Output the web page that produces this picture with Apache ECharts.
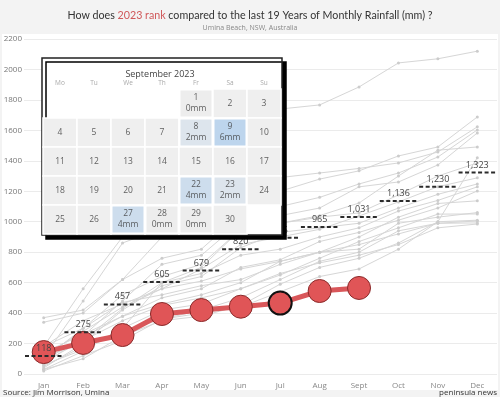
<!DOCTYPE html>
<html>
<head>
<meta charset="utf-8">
<script src="https://cdn.jsdelivr.net/npm/echarts@6/dist/echarts.min.js"></script>
<style>
html,body{margin:0;padding:0;background:#f3f3f3;}
#chart{width:500px;height:397px;}
</style>
</head>
<body>
<div id="chart"></div>
<script>
// ---- Data ----
const months = ['Jan','Feb','Mar','Apr','May','Jun','Jul','Aug','Sept','Oct','Nov','Dec'];
const yTicks = [0,200,400,600,800,1000,1200,1400,1600,1800,2000,2200];

// cumulative monthly rainfall (mm), previous 19 years (approximate)
const yrA = [180,560,900,1200,1480,1650,1740,1767,1885,2043,2070,2120];
const yrB = [370,420,620,900,960,1150,1200,1280,1334,1432,1491,1688];
const yrC = [110,480,860,960,1020,1250,1290,1320,1350,1386,1458,1623];
const yrD = [340,400,620,760,820,1050,1100,1160,1248,1320,1425,1603];
const yrE = [60,250,480,720,780,1000,1040,1090,1229,1261,1373,1583];
const yrF = [100,300,520,640,720,950,990,1040,1123,1300,1470,1491];
const yrG = [80,220,430,600,700,950,990,1030,1058,1176,1300,1386];
const yrH = [120,280,440,560,690,850,900,950,1038,1130,1230,1288];
const yrI = [40,200,420,580,640,830,930,960,990,1090,1180,1248];
const yrJ = [30,150,300,600,660,780,820,900,960,1070,1140,1229];
const yrK = [90,240,380,500,560,700,750,870,930,1010,1090,1202];
const yrL = [180,300,470,520,580,620,720,800,900,1030,1120,1137];
const yrM = [60,160,300,420,460,560,650,760,870,960,1050,1051];
const yrN = [140,260,380,460,520,600,740,800,820,990,1030,1060];
const yrO = [50,180,280,360,420,500,620,740,800,940,990,1005];
const yrP = [180,350,460,560,610,690,740,800,850,920,990,992];
const yrQ = [30,100,250,350,380,450,590,700,760,860,1000,1010];
const yrR = [100,220,350,450,500,560,660,730,780,850,960,985];
const yrS = [20,120,220,360,400,440,540,640,690,820,1000,1420];
const pastYears = [yrA,yrB,yrC,yrD,yrE,yrF,yrG,yrH,yrI,yrJ,yrK,yrL,yrM,yrN,yrO,yrP,yrQ,yrR,yrS];

// 2023 cumulative rainfall (mm)
const y2023 = [144,204,256,394,420,442,466,545,565];
// average reference (dashed) per month
const avgValues = [118,275,457,605,679,820,895,965,1031,1136,1230,1323];

// September 2023 daily rainfall (calendar)
const rainDays = [1,8,9,22,23,27,28,29];
const rainMm = [0,2,6,4,2,4,0,0];
const calendarMonth = '2023-09';

// ---- Build ----
const pad = d => (d < 10 ? '0' + d : '' + d);
const allDays = [];
for (let d = 1; d <= 30; d++) allDays.push([calendarMonth + '-' + pad(d), d]);
const heatData = rainDays.map((d, i) => [calendarMonth + '-' + pad(d), rainMm[i]]);
const mmOf = {};
rainDays.forEach((d, i) => { mmOf[d] = rainMm[i]; });

const chart = echarts.init(document.getElementById('chart'), null, {renderer: 'canvas'});

const series = [];
pastYears.forEach((arr, i) => {
  series.push({
    type: 'line', data: arr, z: 2,
    symbol: 'circle', symbolSize: 3, showSymbol: true,
    lineStyle: {color: '#d6d6d6', width: 1},
    itemStyle: {color: '#cccccc'},
    emphasis: {disabled: true}, silent: true, animation: false
  });
});
series.push({
  type: 'line', data: y2023.map((v, i) => i === 6 ? {value: v, itemStyle: {borderColor: '#111', borderWidth: 2}} : v),
  z: 5, symbol: 'circle', symbolSize: 23,
  lineStyle: {color: '#d9575a', width: 5},
  itemStyle: {color: '#e05557', borderColor: '#8a2a2a', borderWidth: 1},
  animation: false
});
series.push({
  type: 'custom', z: 8, animation: false,
  data: avgValues.map((v, i) => [i, v]),
  renderItem: function (params, api) {
    const idx = api.value(0), v = api.value(1);
    const p = api.coord([idx, v]);
    const w = api.size([1, 0])[0];
    return {
      type: 'group',
      children: [
        {type: 'line', shape: {x1: p[0] - w / 2 + 1, y1: p[1], x2: p[0] + w / 2 - 1, y2: p[1]},
         style: {stroke: '#2b2b2b', lineWidth: 2, lineDash: [4, 2.5]}},
        {type: 'text', x: p[0], y: p[1] - 3,
         style: {text: v.toLocaleString('en-US'), fill: '#444', font: '9px "Open Sans"', align: 'center', verticalAlign: 'bottom'}}
      ]
    };
  }
});
series.push({
  type: 'heatmap', coordinateSystem: 'calendar', data: heatData, z: 111,
  itemStyle: {borderColor: '#ffffff', borderWidth: 1.5}, animation: false
});
series.push({
  type: 'scatter', coordinateSystem: 'calendar', data: allDays, z: 112,
  symbolSize: 0, animation: false,
  label: {
    show: true, position: 'inside', color: '#3a3a3a', fontSize: 8.5, lineHeight: 11, fontFamily: 'Open Sans',
    formatter: function (p) {
      const d = p.value[1];
      return (d in mmOf) ? d + '\n' + mmOf[d] + 'mm' : '' + d;
    }
  }
});

const option = {
  backgroundColor: '#f3f3f3',
  animation: false,
  title: {
    text: '{a|How does }{r|2023 rank}{a| compared to the last 19 Years of Monthly Rainfall (mm) ?}',
    subtext: 'Umina Beach, NSW, Australia',
    left: 'center', top: 5, itemGap: 3,
    textStyle: {
      rich: {
        a: {fontSize: 10.7, color: '#333', fontFamily: 'Lato', fontWeight: 'normal'},
        r: {fontSize: 10.7, color: '#d0585a', fontFamily: 'Lato', fontWeight: 'normal'}
      }
    },
    subtextStyle: {fontSize: 7, color: '#888', fontFamily: 'Open Sans'}
  },
  graphic: [
    {type: 'rect', z: 0, shape: {x: 2, y: 34, width: 496, height: 356}, style: {fill: '#ffffff'}, silent: true},
    {type: 'rect', z: 100, shape: {x: 42, y: 58, width: 240, height: 177},
     style: {fill: '#ffffff', stroke: '#222', lineWidth: 1.5, shadowColor: '#000', shadowOffsetX: 4, shadowOffsetY: 4, shadowBlur: 0}},
    {type: 'text', z: 120, x: 160, y: 74, style: {text: 'September 2023', fill: '#444', font: '9px "Open Sans"', align: 'center', verticalAlign: 'middle'}},
    {type: 'text', z: 120, left: 3, top: 389, style: {text: 'Source: Jim Morrison, Umina', fill: '#333', font: '8px "Open Sans"'}},
    {type: 'text', z: 120, right: 3, top: 389, style: {text: 'peninsula news', fill: '#333', font: '8px "Open Sans"'}}
  ],
  grid: {left: 24, right: 3, top: 39, bottom: 23, containLabel: false},
  xAxis: {
    type: 'category', data: months, boundaryGap: true,
    axisLine: {show: false}, axisTick: {show: false},
    axisLabel: {color: '#888', fontSize: 8, margin: 8, fontFamily: 'Open Sans'}
  },
  yAxis: {
    type: 'value', min: yTicks[0], max: yTicks[yTicks.length - 1], interval: 200,
    axisLine: {show: false}, axisTick: {show: false},
    axisLabel: {color: '#777', fontSize: 8, margin: 2, fontFamily: 'Open Sans', formatter: v => String(v)},
    splitLine: {lineStyle: {color: '#ebebeb', width: 1}}
  },
  calendar: {
    z: 110,
    orient: 'vertical', range: calendarMonth,
    left: 43, top: 89, cellSize: [34, 29],
    splitLine: {show: false},
    itemStyle: {color: '#efefef', borderColor: '#ffffff', borderWidth: 1.5},
    dayLabel: {firstDay: 1, nameMap: ['Su','Mo','Tu','We','Th','Fr','Sa'], color: '#aaa', fontSize: 6.5, position: 'start', margin: 2, fontFamily: 'Open Sans'},
    monthLabel: {show: false},
    yearLabel: {show: false}
  },
  visualMap: {
    show: false, type: 'continuous', min: 0, max: 6, seriesIndex: pastYears.length + 2,
    inRange: {color: ['#ededed', '#bdd5ed']}
  },
  series: series
};
chart.setOption(option);
</script>
</body>
</html>
